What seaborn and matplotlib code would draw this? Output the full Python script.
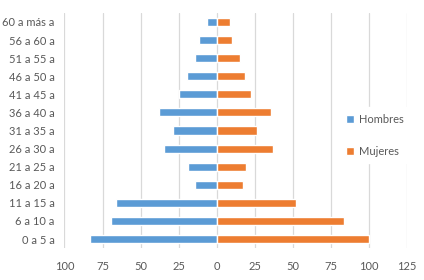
import numpy as np
import pandas as pd
import seaborn as sns
import matplotlib.pyplot as plt
from matplotlib.ticker import FuncFormatter

# Data (age groups listed top to bottom as in the chart)
grupos = ["60 a más a", "56 a 60 a", "51 a 55 a", "46 a 50 a", "41 a 45 a",
          "36 a 40 a", "31 a 35 a", "26 a 30 a", "21 a 25 a", "16 a 20 a",
          "11 a 15 a", "6 a 10 a", "0 a 5 a"]
hombres = [6.5, 11.5, 14.5, 19.5, 25, 38, 28.5, 34.5, 19, 14.5, 66, 69.5, 83.5]
mujeres = [9, 10, 15.5, 18.5, 22.5, 35.5, 26.5, 37, 19.5, 17, 52, 83.5, 100]

df = pd.DataFrame({
    "Grupo": grupos * 2,
    "Valor": [-v for v in hombres] + mujeres,
    "Sexo": ["Hombres"] * len(grupos) + ["Mujeres"] * len(grupos),
})

sns.set_style("white")
plt.rcParams["font.family"] = ["Lato", "DejaVu Sans"]
gris = "#595959"

fig, ax = plt.subplots(figsize=(4.24, 2.8), dpi=100)
fig.subplots_adjust(left=0.152, right=0.96, top=0.954, bottom=0.114)

sns.barplot(data=df, x="Valor", y="Grupo", hue="Sexo", order=grupos,
            palette={"Hombres": "#5B9BD5", "Mujeres": "#ED7D31"},
            saturation=1, orient="h", dodge=False, width=0.45, ax=ax, zorder=3)

ax.set_xlim(-100, 125)
ax.set_xticks(np.arange(-100, 126, 25))
ax.xaxis.set_major_formatter(FuncFormatter(lambda v, p: f"{abs(v):.0f}"))
ax.grid(axis="x", color="#D9D9D9", linewidth=0.9, zorder=0)
ax.set_axisbelow(True)
for s in ax.spines.values():
    s.set_visible(False)
ax.tick_params(axis="both", length=0, labelsize=8, colors=gris)
ax.tick_params(axis="y", pad=7)
ax.tick_params(axis="x", pad=9)
ax.set_xlabel("")
ax.set_ylabel("")

leg = ax.legend(loc="center left", bbox_to_anchor=(0.785, 0.48), frameon=True,
                fontsize=8, handlelength=0.75, handleheight=0.75,
                handletextpad=0.45, labelspacing=1.9, borderpad=0.6)
leg.get_frame().set_facecolor("white")
leg.get_frame().set_edgecolor("white")
leg.get_frame().set_alpha(1)
for t in leg.get_texts():
    t.set_color(gris)

fig.savefig("out.png", dpi=100)
